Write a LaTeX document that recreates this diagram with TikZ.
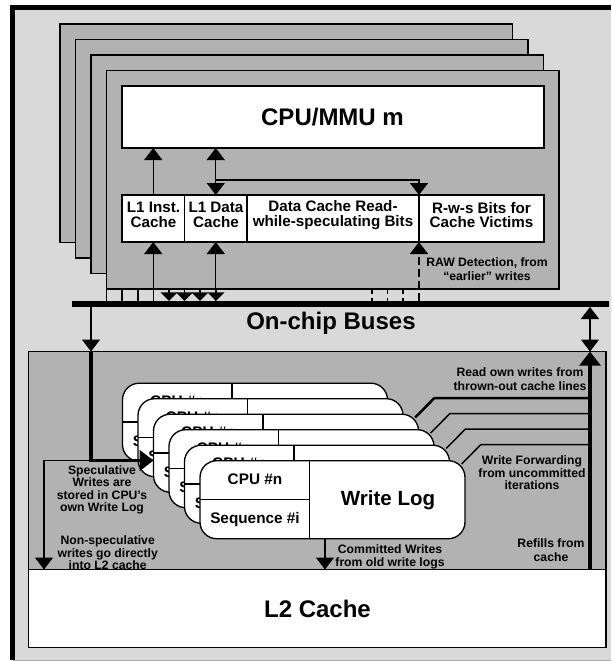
\documentclass[tikz,border=0pt]{standalone}
\usepackage{fontspec}
\setmainfont{Liberation Sans}
\usetikzlibrary{arrows.meta}
\definecolor{shellgray}{HTML}{D9D9D9}
\definecolor{panelgray}{HTML}{B2B2B2}
\def\px{.75pt}
\begin{document}
\begin{tikzpicture}[
    x=.75pt, y=-.75pt,
    box/.style={rectangle, draw, line width=1pt, inner sep=0pt, outer sep=0pt},
    panel/.style={box, fill=panelgray},
    whitebox/.style={box, fill=white},
    logbox/.style={box, fill=white, rounded corners=12.5pt, minimum width=265*\px, minimum height=78*\px},
    title/.style={inner sep=0pt, font=\fontsize{18}{20}\selectfont\bfseries},
    logtitle/.style={inner sep=0pt, font=\fontsize{11.5}{13}\selectfont\bfseries},
    cell/.style={inner sep=0pt, align=center, font=\fontsize{11.4}{11}\selectfont\bfseries},
    note/.style={inner sep=0pt, align=center, font=\fontsize{9.15}{10.5}\selectfont\bfseries},
    tightnote/.style={inner sep=0pt, align=center, font=\fontsize{9.15}{9.4}\selectfont\bfseries},
    link/.style={line width=1.1pt},
    heavy/.style={line width=2.6pt},
    bigtip/.tip={Triangle[length=9pt,width=13.5pt]},
    smalltip/.tip={Triangle[length=6.5pt,width=12.5pt]},
    heavytip/.tip={Triangle[length=10.5pt,width=15.5pt]}
  ]
  \useasboundingbox (0,0) rectangle (611,661);

  % Outer shell
  \fill[shellgray] (12.5,7.5) rectangle (611,660);
  \draw[gray!70, line width=.8pt] (12.5,660.5) -- (611,660.5);
  \draw[line width=3.8pt] (12.5,660) -- (12.5,7.5) -- (611,7.5);

  % CPU panels, back to front
  \foreach \k in {3,2,1,0}
    \node[panel, minimum width=452.5*\px, minimum height=218.5*\px] (panel\k)
      at ({332.75-15.5*\k},{179.75-15.5*\k}) {};

  % CPU and first level caches
  \node[whitebox, minimum width=422*\px, minimum height=62*\px] (cpu) at (333,117) {};
  \node[title] (cputext) at (332.5,117.5) {CPU/MMU m};
  \node[whitebox, minimum width=62.5*\px, minimum height=47*\px] (linst) at (153.25,218.5) {};
  \node[whitebox, minimum width=62.5*\px, minimum height=47*\px] (ldata) at (215.75,218.5) {};
  \node[whitebox, minimum width=172*\px, minimum height=47*\px] (rwbits) at (333,218.5) {};
  \node[whitebox, minimum width=125*\px, minimum height=47*\px] (victims) at (481.5,218.5) {};
  \node[cell] (linsttext) at (153.5,215) {L1 Inst.\\Cache};
  \node[cell] (ldatatext) at (216,215) {L1 Data\\Cache};
  \node[cell] (rwbitstext) at (333,215) {Data Cache Read-\\while-speculating Bits};
  \node[cell] (victimstext) at (481.5,215) {R-w-s Bits for\\Cache Victims};
  \node[note] (rawtext) at (487,269) {RAW Detection, from\\“earlier” writes};

  % Bus
  \node[rectangle, fill=black, inner sep=0pt, outer sep=0pt, minimum width=537*\px, minimum height=6*\px] (bus) at (340.5,304) {};
  \node[title] (bustext) at (331,323) {On-chip Buses};

  % Connectors around the first level caches
  \coordinate (branch) at (ldata.north |- 0,180);
  \draw[link, -{bigtip}] (linst.north) -- (linst.north |- cpu.south);
  \draw[link, {bigtip}-{bigtip}] (ldata.north |- cpu.south) -- (ldata.north);
  \draw[link, -{bigtip}] (branch) -- (branch -| rwbits.north east) -- (rwbits.north east);
  \draw[link, -{bigtip}] (linst.north |- bus.north) -- (linst.south);
  \draw[link, -{bigtip}] (ldata.north |- bus.north) -- (ldata.south);
  \draw[link, dashed, dash pattern=on 6pt off 3pt, -{bigtip}] (rwbits.south east |- bus.north) -- (rwbits.south east);
  \foreach \x in {106.5,122,138}
    \draw[link] (\x,0 |- panel0.south) -- (\x,0 |- bus.north);
  \foreach \x in {169,184.5,200,216}
    \draw[link, -{smalltip}] (\x,0 |- panel0.south) -- (\x,0 |- bus.north);
  \foreach \x in {372,387.5,403}
    \draw[link, dashed, dash pattern=on 4pt off 3pt] (\x,0 |- panel0.south) -- (\x,0 |- bus.north);

  % Second level panel
  \node[panel, minimum width=577.5*\px, minimum height=218*\px] (lower) at (317.25,460.5) {};
  \node[tightnote] (spectext) at (102,490) {Speculative\\Writes are\\stored in CPU's\\own Write Log};
  \node[tightnote] (nonspectext) at (107.7,553) {Non-speculative\\writes go directly\\into L2 cache};
  \node[note] (readtext) at (520,379) {Read own writes from\\thrown-out cache lines};
  \node[tightnote] (fwdtext) at (532,472.8) {Write Forwarding\\from uncommitted\\iterations};
  \node[note] (refilltext) at (551,550) {Refills from\\cache};
  \node[tightnote] (committext) at (390,557) {Committed Writes\\from old write logs};

  % Write logs, back to front
  \foreach \k in {5,4,3,2,1,0} {
    \begin{scope}[shift={({-15.5*\k},{-15.5*\k})}]
      \node[logbox] (log\k) at (332.5,499.7) {};
      \coordinate (split\k) at (309.5,0 |- log\k.north);
      \coordinate (mid\k) at (log\k.west);
      \coordinate (tap\k) at (461.7,464);
      \coordinate (knee\k) at (480.7,444.7);
      \draw[link] (split\k) -- (split\k |- log\k.south);
      \draw[link] (mid\k) -- (mid\k -| split\k);
      \node[logtitle] (cpuname\k) at (255,479) {CPU \#n};
      \node[logtitle] (seqname\k) at (255,520) {Sequence \#i};
      \node[title, font=\fontsize{15.4}{17}\selectfont\bfseries] (logname\k) at (388,500) {Write Log};
    \end{scope}
  }

  % Second level cache
  \node[whitebox, minimum width=577.5*\px, minimum height=78*\px] (ltwo) at (317.25,608.5) {};
  \node[title] (ltwotext) at (317.5,609) {L2 Cache};

  % Connectors around the write logs
  \coordinate (drop) at (91,0 |- lower.north);
  \coordinate (corner) at (91,460.5);
  \coordinate (refill) at (590,0 |- lower.north);
  \draw[link, -{bigtip}] (91,0 |- bus.south) -- (drop);
  \draw[heavy, line width=2.4pt, -{heavytip}] (drop) -- (corner) -- (log3.west |- corner);
  \draw[link, -{bigtip}] (corner) -- (44,0 |- corner) -- (44,0 |- ltwo.north);
  \draw[link, -{bigtip}] (log0.south -| 325,0) -- (325,0 |- ltwo.north);
  \draw[link, {bigtip}-{bigtip}] (refill |- bus.south) -- (refill);
  \draw[heavy, -{heavytip}] (refill |- ltwo.north) -- (refill);
  \foreach \k in {0,1,2}
    \draw[link] (tap\k) -- (knee\k) -- (knee\k -| refill);
  \draw[link, line width=1.9pt] (tap3) -- (knee3) -- (knee3 -| refill);

\end{tikzpicture}
\end{document}
